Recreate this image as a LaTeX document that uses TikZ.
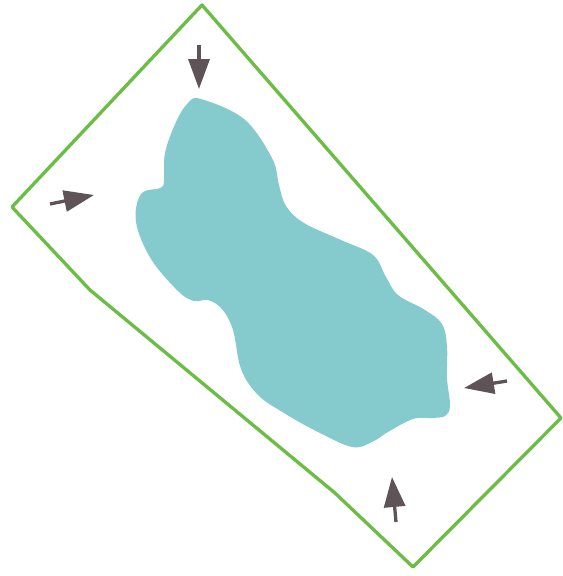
\documentclass[tikz,border=0pt]{standalone}
\usepackage{tikz}
\usetikzlibrary{arrows.meta}
\definecolor{framegreen}{RGB}{108,189,69}
\definecolor{lakeblue}{RGB}{133,203,206}
\definecolor{pushgray}{RGB}{94,84,88}

\begin{document}
\begin{tikzpicture}[
      x=0.02cm, y=-0.02cm,
      frame/.style={draw=framegreen, line width=1.9pt, line join=round},
      lake/.style={fill=lakeblue, draw=none},
      push/.style={draw=pushgray, line width=1.9pt,
                   -{Triangle[length=0.6cm, width=0.42cm]}},
    ]
    \useasboundingbox (0,0) rectangle (563,576);

    % outer boundary
    \draw[frame] (202,5) -- (561,418) -- (413,567) -- (335,493)
      -- (90,290) -- (12,207) -- cycle;

    % blob
    \fill[lake] plot[smooth cycle, tension=0.6] coordinates {
      (201,99) (244,119) (272,158) (279,185) (286,206) (304,223)
      (341,240) (373,255) (386,277) (398,295) (425,310) (442,324)
      (447,346) (447,378) (450,406) (445,416) (432,418) (413,419) (388,432)
      (372,442) (352,447) (316,431) (284,413) (258,395) (241,369)
      (233,330) (222,309) (208,300) (194,301) (178,291) (151,259)
      (136,222) (141,194) (160,188) (164,181) (165,153) (176,122)
      (188,103)};

    % arrows
    \coordinate (topA) at (199,45);
    \coordinate (topB) at (199,89);
    \coordinate (leftA) at (50,204);
    \coordinate (leftB) at (94,195);
    \coordinate (rightA) at (507,381);
    \coordinate (rightB) at (464,388);
    \coordinate (botA) at (396,522);
    \coordinate (botB) at (392,477);

    \draw[push] (topA) -- (topB);
    \draw[push] (leftA) -- (leftB);
    \draw[push] (rightA) -- (rightB);
    \draw[push] (botA) -- (botB);
  \end{tikzpicture}
\end{document}
